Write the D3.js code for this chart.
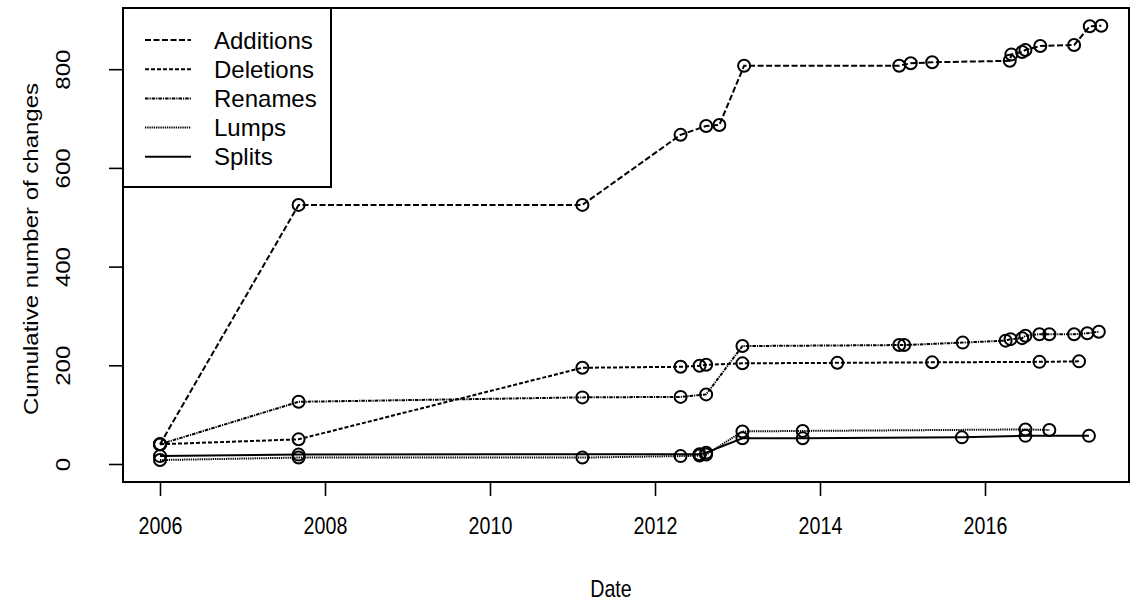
<!DOCTYPE html>
<html>
<head>
<meta charset="utf-8">
<script src="https://cdnjs.cloudflare.com/ajax/libs/d3/7.8.5/d3.min.js"></script>
<style>
  html, body { margin: 0; padding: 0; background: #fff; }
  svg { display: block; }
  text { font-family: "Liberation Sans", Arial, Helvetica, sans-serif; fill: #000; }
</style>
</head>
<body>
<svg id="chart" width="1131" height="604"></svg>
<script>
// Cumulative taxonomic changes over time (decimal years).
const additionsDates = [2006.0, 2007.68, 2011.12, 2012.31, 2012.62, 2012.78, 2013.08, 2014.96, 2015.10, 2015.36, 2016.30, 2016.32, 2016.45, 2016.49, 2016.67, 2017.08, 2017.27, 2017.41];
const additionsValues = [40, 525, 525, 667, 685, 687, 807, 807, 812, 814, 817, 830, 835, 839, 847, 849, 887, 888];

const deletionsDates = [2006.0, 2007.68, 2011.12, 2012.31, 2012.54, 2012.62, 2013.06, 2014.21, 2015.36, 2016.66, 2017.14];
const deletionsValues = [40, 50, 195, 197, 199, 201, 204, 205, 206, 207, 208];

const renamesDates = [2006.0, 2007.68, 2011.12, 2012.31, 2012.62, 2013.06, 2014.96, 2015.02, 2015.73, 2016.25, 2016.31, 2016.45, 2016.49, 2016.66, 2016.78, 2017.08, 2017.24, 2017.38];
const renamesValues = [40, 126, 135, 136, 141, 239, 241, 241, 246, 250, 253, 255, 260, 263, 263, 263, 265, 268];

const lumpsDates = [2006.0, 2007.68, 2011.12, 2012.31, 2012.54, 2012.62, 2013.06, 2013.79, 2016.49, 2016.78];
const lumpsValues = [8, 13, 13, 16, 17, 19, 66, 67, 70, 69];

const splitsDates = [2006.0, 2007.68, 2012.54, 2012.62, 2013.06, 2013.79, 2015.72, 2016.49, 2017.26];
const splitsValues = [16, 19, 20, 23, 52, 52, 54, 57, 57];

const seriesNames = ["Additions", "Deletions", "Renames", "Lumps", "Splits"];
const seriesDashes = ["6,2.5", "4,2", "3.5,1,1.2,1", "1.3,0.9", null];

const xTicks = [2006, 2008, 2010, 2012, 2014, 2016];
const yTicks = [0, 200, 400, 600, 800];

const xTitle = "Date";
const yTitle = "Cumulative number of changes";

// Plot region and text geometry
const plot = { left: 123, right: 1129, top: 8, bottom: 482 };
const fontSize = 24;
const squeeze = 0.82;   // glyphs are drawn narrower along the horizontal

const svg = d3.select("#chart");

const x = d3.scaleLinear().domain([2006, 2016]).range([160, 985]);
const y = d3.scaleLinear().domain([0, 800]).range([464, 69.2]);

const series = [
  { dates: additionsDates, values: additionsValues },
  { dates: deletionsDates, values: deletionsValues },
  { dates: renamesDates, values: renamesValues },
  { dates: lumpsDates, values: lumpsValues },
  { dates: splitsDates, values: splitsValues }
].map((s, i) => ({
  name: seriesNames[i],
  dash: seriesDashes[i],
  points: s.dates.map((d, j) => ({ t: d, v: s.values[j] }))
}));

const line = d3.line().x(d => x(d.t)).y(d => y(d.v));

const marks = svg.append("g");
series.forEach(s => {
  marks.append("path")
    .datum(s.points)
    .attr("d", line)
    .attr("fill", "none")
    .attr("stroke", "#000")
    .attr("stroke-width", 2)
    .attr("stroke-dasharray", s.dash);
  marks.selectAll(null)
    .data(s.points)
    .join("circle")
    .attr("cx", d => x(d.t))
    .attr("cy", d => y(d.v))
    .attr("r", 6)
    .attr("fill", "none")
    .attr("stroke", "#000")
    .attr("stroke-width", 2);
});

// Axes
const xAxis = svg.append("g")
  .attr("transform", `translate(0,${plot.bottom})`)
  .call(d3.axisBottom(x).tickValues(xTicks).tickSize(14).tickFormat(d3.format("d")));
xAxis.select(".domain").remove();
xAxis.selectAll("line").attr("stroke", "#000").attr("stroke-width", 1.6);
xAxis.selectAll("text")
  .attr("font-size", fontSize).attr("fill", "#000").attr("font-family", null)
  .attr("y", null).attr("dy", null)
  .attr("transform", `translate(0,52) scale(${squeeze},1)`);

const yAxis = svg.append("g")
  .attr("transform", `translate(${plot.left},0)`)
  .call(d3.axisLeft(y).tickValues(yTicks).tickSize(14).tickFormat(d3.format("d")));
yAxis.select(".domain").remove();
yAxis.selectAll("line").attr("stroke", "#000").attr("stroke-width", 1.6);
yAxis.selectAll("text")
  .attr("font-size", fontSize).attr("fill", "#000").attr("font-family", null)
  .attr("x", null).attr("dy", null)
  .attr("text-anchor", "middle")
  .attr("transform", `translate(-53,0) scale(${squeeze},1) rotate(-90)`);

// Box around plot region
svg.append("rect")
  .attr("x", plot.left).attr("y", plot.top)
  .attr("width", plot.right - plot.left).attr("height", plot.bottom - plot.top)
  .attr("fill", "none").attr("stroke", "#000").attr("stroke-width", 2);

// Axis titles
svg.append("text")
  .attr("transform", `translate(611,597) scale(${squeeze},1)`)
  .attr("text-anchor", "middle").attr("font-size", fontSize)
  .text(xTitle);
svg.append("text")
  .attr("transform", `translate(38,${(plot.top + plot.bottom) / 2 + 4}) scale(${squeeze},1) rotate(-90)`)
  .attr("text-anchor", "middle").attr("font-size", fontSize)
  .text(yTitle);

// Legend
const legend = svg.append("g");
legend.append("rect")
  .attr("x", plot.left).attr("y", plot.top)
  .attr("width", 208).attr("height", 179)
  .attr("fill", "#fff").attr("stroke", "#000").attr("stroke-width", 2);
series.forEach((s, i) => {
  const ly = 40 + i * 29.2;
  legend.append("line")
    .attr("x1", 145).attr("x2", 191).attr("y1", ly).attr("y2", ly)
    .attr("stroke", "#000").attr("stroke-width", 2)
    .attr("stroke-dasharray", s.dash);
  legend.append("text")
    .attr("x", 214).attr("y", ly + 8.5)
    .attr("font-size", 24)
    .text(s.name);
});
</script>
</body>
</html>
